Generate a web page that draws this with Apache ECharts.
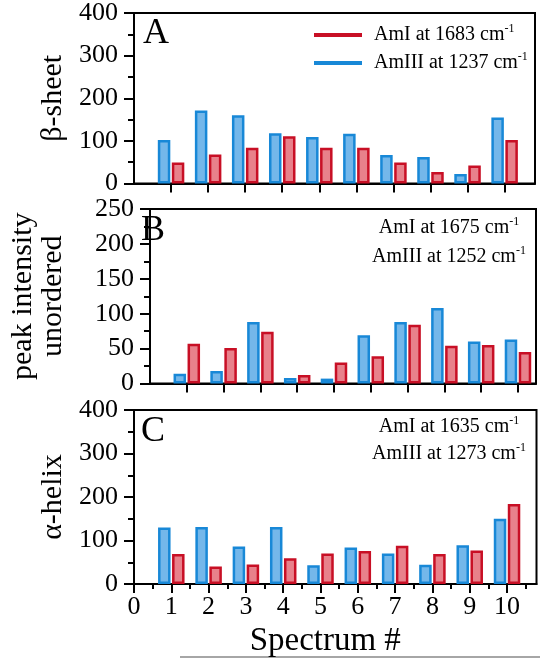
<!DOCTYPE html>
<html><head><meta charset="utf-8">
<script src="https://cdn.jsdelivr.net/npm/echarts@6/dist/echarts.min.js"></script>
<style>html,body{margin:0;padding:0;background:#fff}#c{width:540px;height:659px}</style>
</head><body><div id="c"></div>
<script>
// ---- data ----
const spectra = [1, 2, 3, 4, 5, 6, 7, 8, 9, 10];
const xTickValues = [0, 1, 2, 3, 4, 5, 6, 7, 8, 9, 10];
const xMinorTickValues = [0.5, 1.5, 2.5, 3.5, 4.5, 5.5, 6.5, 7.5, 8.5, 9.5, 10.5];
// Panel A: beta-sheet
const betaAmIII = [102, 171, 160, 118, 109, 117, 67, 62, 22, 155];
const betaAmI   = [49, 68, 84, 111, 84, 84, 49, 27, 42, 102];
// Panel B: unordered
const unordAmIII = [14, 18, 88, 8, 7, 69, 88, 108, 60, 63];
const unordAmI   = [57, 51, 74, 12, 30, 39, 84, 54, 55, 45];
// Panel C: alpha-helix
const helixAmIII = [130, 131, 86, 131, 43, 84, 70, 44, 89, 150];
const helixAmI   = [69, 40, 45, 59, 70, 76, 88, 69, 77, 184];
const yTicksA = [0, 100, 200, 300, 400];
const yTicksB = [0, 50, 100, 150, 200, 250];
const yTicksC = [0, 100, 200, 300, 400];
const panelLetters = ['A', 'B', 'C'];
const yTitles = ['β-sheet', 'peak intensity\nunordered', 'α-helix'];
const xTitle = 'Spectrum #';
const legendA = [['AmI at 1683 cm', '-1'], ['AmIII at 1237 cm', '-1']];
const noteB = [['AmI at 1675 cm', '-1'], ['AmIII at 1252 cm', '-1']];
const noteC = [['AmI at 1635 cm', '-1'], ['AmIII at 1273 cm', '-1']];

// ---- styles ----
const FONT = "'Liberation Serif','Times New Roman',serif";
const BLUE_EDGE = '#1888d7', BLUE_FILL = '#74b7ea';
const RED_EDGE = '#c80f25', RED_FILL = '#e8818b';
const richSup = {
  t: {fontSize: 20, fontFamily: FONT, color: '#000', lineHeight: 24},
  s: {fontSize: 12, fontFamily: FONT, color: '#000', verticalAlign: 'top', lineHeight: 12}
};

const grids = [
  {left: 134, top: 10, width: 401, height: 173.5},
  {left: 134, top: 209, width: 402, height: 174.5},
  {left: 134, top: 410, width: 402.5, height: 174}
].map(g => Object.assign(g, {show: true, borderColor: '#000', borderWidth: 2, backgroundColor: 'transparent'}));
const xMax = [10.82, 10.49, 10.79];

function xAxis(i) {
  const isC = i === 2;
  return {
    gridIndex: i, type: 'value', min: 0, max: xMax[i], position: 'bottom',
    axisLine: {show: true, onZero: false, lineStyle: {color: '#000', width: 2}},
    axisTick: {show: true, customValues: isC ? xTickValues : spectra, length: 9, lineStyle: {color: '#000', width: 2}},
    axisLabel: isC ? {show: true, customValues: xTickValues, fontSize: 26, fontFamily: FONT, color: '#000', margin: 10} : {show: false},
    splitLine: {show: false},
    name: isC ? xTitle : '', nameLocation: 'middle', nameGap: 41,
    nameTextStyle: {fontSize: 33, fontFamily: FONT, color: '#000', padding: [0, 20, 0, 0]}
  };
}
const minorXAxis = {
  gridIndex: 2, type: 'value', min: 0, max: xMax[2], position: 'bottom',
  axisLine: {show: false},
  axisTick: {show: true, customValues: xMinorTickValues, length: 5, lineStyle: {color: '#000', width: 2}},
  axisLabel: {show: false}, splitLine: {show: false}
};
function yAxis(i, ticks, gap) {
  return {
    gridIndex: i, type: 'value', min: ticks[0], max: ticks[ticks.length - 1], interval: ticks[1] - ticks[0],
    axisLine: {show: true, lineStyle: {color: '#000', width: 2}},
    axisTick: {show: true, length: 10, lineStyle: {color: '#000', width: 2}},
    minorTick: {show: true, splitNumber: 2, length: 6, lineStyle: {color: '#000', width: 2}},
    axisLabel: {fontSize: 26, fontFamily: FONT, color: '#000', margin: 16},
    splitLine: {show: false}, minorSplitLine: {show: false},
    name: yTitles[i], nameLocation: 'middle', nameRotate: 90, nameGap: gap,
    nameTextStyle: {fontSize: 30, fontFamily: FONT, color: '#000', lineHeight: 30}
  };
}
function bars(name, vals, i, edge, fill) {
  return {
    type: 'bar', name, xAxisIndex: i, yAxisIndex: i,
    data: spectra.map((s, k) => [s, vals[k]]),
    barWidth: 12.5, barGap: '12%',
    itemStyle: {color: fill, borderColor: edge, borderWidth: 2.5},
    emphasis: {disabled: true}
  };
}
function note(lines, cx, ys) {
  return lines.map((l, k) => ({
    type: 'text', x: cx, y: ys[k], silent: true,
    style: {text: '{t|' + l[0] + '}{s|' + l[1] + '}', rich: richSup, align: 'center', verticalAlign: 'middle', fill: '#000'}
  }));
}
function letter(txt, x, y) {
  return {type: 'text', x, y, silent: true,
    style: {text: txt, fontSize: 36, fontFamily: FONT, fill: '#000', align: 'left', verticalAlign: 'middle'}};
}

const nameA0 = legendA[0].join(''), nameA1 = legendA[1].join('');
const option = {
  animation: false,
  backgroundColor: '#fff',
  grid: grids,
  xAxis: [xAxis(0), xAxis(1), xAxis(2), minorXAxis],
  yAxis: [yAxis(0, yTicksA, 63), yAxis(1, yTicksB, 82), yAxis(2, yTicksC, 63)],
  legend: {
    left: 309, top: 18, orient: 'vertical', itemWidth: 48, itemHeight: 4, itemGap: 6,
    icon: 'rect', selectedMode: false,
    data: [
      {name: nameA0, itemStyle: {color: RED_EDGE, borderWidth: 0}},
      {name: nameA1, itemStyle: {color: BLUE_EDGE, borderWidth: 0}}
    ],
    formatter: n => {
      const l = n === nameA0 ? legendA[0] : legendA[1];
      return '{t|' + l[0] + '}{s|' + l[1] + '}';
    },
    textStyle: {fontSize: 20, fontFamily: FONT, color: '#000', padding: [0, 0, 0, 7], rich: richSup}
  },
  series: [
    bars(nameA1, betaAmIII, 0, BLUE_EDGE, BLUE_FILL),
    bars(nameA0, betaAmI, 0, RED_EDGE, RED_FILL),
    bars(noteB[1].join(''), unordAmIII, 1, BLUE_EDGE, BLUE_FILL),
    bars(noteB[0].join(''), unordAmI, 1, RED_EDGE, RED_FILL),
    bars(noteC[1].join(''), helixAmIII, 2, BLUE_EDGE, BLUE_FILL),
    bars(noteC[0].join(''), helixAmI, 2, RED_EDGE, RED_FILL)
  ],
  graphic: [
    letter(panelLetters[0], 143, 34),
    letter(panelLetters[1], 141, 231),
    letter(panelLetters[2], 141, 432),
    ...note(noteB, 449, [228, 257]),
    ...note(noteC, 449, [427, 454]),
    {type: 'line', silent: true, shape: {x1: 180, y1: 657, x2: 540, y2: 657}, style: {stroke: '#888', lineWidth: 1.5}}
  ]
};
const chart = echarts.init(document.getElementById('c'), null, {renderer: 'canvas'});
chart.setOption(option);
</script></body></html>
